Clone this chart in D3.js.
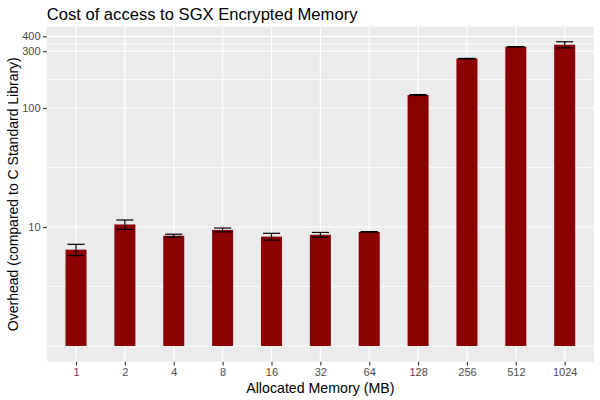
<!DOCTYPE html>
<html>
<head>
<meta charset="utf-8">
<script src="https://cdn.jsdelivr.net/npm/d3@7"></script>
<style>
  html, body { margin: 0; padding: 0; background: #ffffff; }
  svg { display: block; }
  text { font-family: "Liberation Sans", Arial, sans-serif; }
</style>
</head>
<body>
<svg id="chart" width="600" height="400"></svg>
<script>
// ---- data ----
const categories = ["1", "2", "4", "8", "16", "32", "64", "128", "256", "512", "1024"];
const overhead   = [6.45, 10.5, 8.45, 9.45, 8.3, 8.6, 9.1, 128.5, 260, 327, 340];
const errors     = [0.7, 0.95, 0.25, 0.35, 0.55, 0.4, 0.05, 1.2, 1.0, 1.0, 20];
const yTickValues = [10, 100, 300, 400];
const yTickLabels = ["10", "100", "300", "400"];
const yGridExtra  = [1];   // grid line without label at the bar base
const title  = "Cost of access to SGX Encrypted Memory";
const xTitle = "Allocated Memory (MB)";
const yTitle = "Overhead (compared to C Standard Library)";

// ---- layout ----
const panel = { left: 46.7, right: 594, top: 26.7, bottom: 361.7 };
const svg = d3.select("#chart");

// ggplot discrete expansion: 0.6 units each side
const xp = d3.scalePoint().domain(categories)
  .range([panel.left, panel.right]).padding(0.6);
const unit = xp.step();

const y = d3.scaleLog().domain([0.738, 482]).range([panel.bottom, panel.top]);

// panel background
svg.append("rect")
  .attr("x", panel.left).attr("y", panel.top)
  .attr("width", panel.right - panel.left)
  .attr("height", panel.bottom - panel.top)
  .attr("fill", "#EBEBEB");

// minor grid (midpoints in log space between consecutive breaks)
const majorAll = yGridExtra.concat(yTickValues).sort((a, b) => a - b);
const minor = [];
for (let i = 0; i < majorAll.length - 1; i++) {
  minor.push(Math.sqrt(majorAll[i] * majorAll[i + 1]));
}
svg.append("g").selectAll("line").data(minor).join("line")
  .attr("x1", panel.left).attr("x2", panel.right)
  .attr("y1", d => y(d)).attr("y2", d => y(d))
  .attr("stroke", "#ffffff").attr("stroke-width", 0.8);

// major grid
svg.append("g").selectAll("line").data(majorAll).join("line")
  .attr("x1", panel.left).attr("x2", panel.right)
  .attr("y1", d => y(d)).attr("y2", d => y(d))
  .attr("stroke", "#ffffff").attr("stroke-width", 1.2);

svg.append("g").selectAll("line").data(categories).join("line")
  .attr("x1", d => xp(d)).attr("x2", d => xp(d))
  .attr("y1", panel.top).attr("y2", panel.bottom)
  .attr("stroke", "#ffffff").attr("stroke-width", 1.2);

// bars
const barW = 0.43 * unit;
svg.append("g").selectAll("rect").data(categories).join("rect")
  .attr("x", d => xp(d) - barW / 2)
  .attr("width", barW)
  .attr("y", (d, i) => y(overhead[i]))
  .attr("height", (d, i) => y(1) - y(overhead[i]))
  .attr("fill", "#8B0000");

// error bars
const errW = 0.35 * unit;
const eg = svg.append("g").attr("stroke", "#000000").attr("stroke-width", 1.2).attr("fill", "none");
categories.forEach((c, i) => {
  const cx = xp(c);
  const hi = y(overhead[i] + errors[i]);
  const lo = y(overhead[i] - errors[i]);
  eg.append("line").attr("x1", cx).attr("x2", cx).attr("y1", hi).attr("y2", lo);
  eg.append("line").attr("x1", cx - errW / 2).attr("x2", cx + errW / 2).attr("y1", hi).attr("y2", hi);
  eg.append("line").attr("x1", cx - errW / 2).attr("x2", cx + errW / 2).attr("y1", lo).attr("y2", lo);
});

// y axis
const yAxis = d3.axisLeft(y)
  .tickValues(yTickValues)
  .tickFormat((d, i) => yTickLabels[i])
  .tickSizeInner(3.7).tickSizeOuter(0).tickPadding(2.5);
const gy = svg.append("g").attr("transform", `translate(${panel.left},0)`).call(yAxis);
gy.select(".domain").remove();
gy.selectAll(".tick line").attr("stroke", "#333333").attr("stroke-width", 1.1);
gy.selectAll(".tick text").attr("fill", "#4D4D4D").attr("font-size", "11px")
  .style("font-family", "'Liberation Sans', Arial, sans-serif");

// x axis
const xAxis = d3.axisBottom(xp).tickSizeInner(3.7).tickSizeOuter(0).tickPadding(3);
const gx = svg.append("g").attr("transform", `translate(0,${panel.bottom})`).call(xAxis);
gx.select(".domain").remove();
gx.selectAll(".tick line").attr("stroke", "#333333").attr("stroke-width", 1.1);
gx.selectAll(".tick text").attr("fill", "#4D4D4D").attr("font-size", "11px")
  .style("font-family", "'Liberation Sans', Arial, sans-serif");

// titles
svg.append("text")
  .attr("x", panel.left).attr("y", 20)
  .attr("font-size", "16.6px").attr("fill", "#000000")
  .text(title);

svg.append("text")
  .attr("x", (panel.left + panel.right) / 2).attr("y", 393)
  .attr("text-anchor", "middle")
  .attr("font-size", "14.2px").attr("fill", "#000000")
  .text(xTitle);

svg.append("text")
  .attr("transform", `translate(18,${(panel.top + panel.bottom) / 2}) rotate(-90)`)
  .attr("text-anchor", "middle")
  .attr("font-size", "14px").attr("fill", "#000000")
  .text(yTitle);
</script>
</body>
</html>
